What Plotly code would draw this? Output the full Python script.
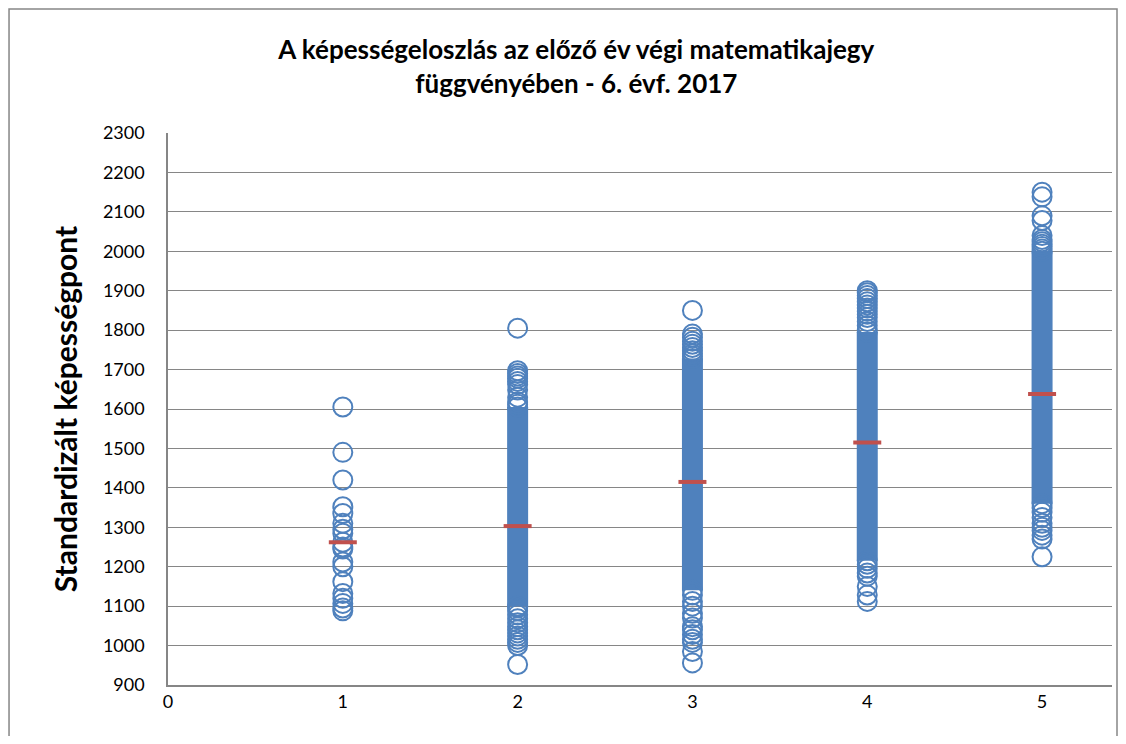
import plotly.graph_objects as go

# grade (previous year's maths mark) for each column
grades = [1, 2, 3, 4, 5]

# individually visible circles, per grade
grade1_points = [1605, 1490, 1420, 1352, 1335, 1310, 1295, 1285, 1262, 1250, 1245,
                 1212, 1200, 1162, 1132, 1120, 1107, 1095, 1088]
grade2_points = [1805, 1697, 1690, 1684, 1678, 1670, 1662, 1648, 1630, 1618, 1612,
                 1096, 1088, 1078, 1068, 1058, 1048, 1040, 1032, 1024, 1016, 1008,
                 1000, 952]
grade3_points = [1850, 1790, 1782, 1772, 1764, 1756, 1748, 1740, 1734,
                 1128, 1112, 1100, 1082, 1070, 1048, 1040, 1028, 1016, 1008, 985, 956]
grade4_points = [1900, 1895, 1888, 1880, 1872, 1864, 1856, 1848, 1840, 1832, 1822,
                 1812, 1802, 1206, 1196, 1184, 1176, 1150, 1128, 1112]
grade5_points = [2150, 2138, 2090, 2078, 2040, 2030, 2024, 2018, 2012, 2006,
                 1350, 1338, 1325, 1310, 1300, 1292, 1280, 1270, 1225]

# range where the circles overlap into a solid column (grades 2-5)
dense_low = [1100, 1140, 1215, 1360]
dense_high = [1605, 1728, 1795, 2000]

# group means (red marks)
means = [1262, 1303, 1415, 1515, 1638]

blue = "#4F81BD"
red = "#C0504D"
grid = "#868686"

fig = go.Figure()

# solid part of the columns
band_x, band_y = [], []
for g, lo, hi in zip(grades[1:], dense_low, dense_high):
    band_x += [g, g, None]
    band_y += [lo, hi, None]
fig.add_trace(go.Scatter(x=band_x, y=band_y, mode="lines",
                         line=dict(color=blue, width=21), hoverinfo="skip",
                         showlegend=False))

xs, ys = [], []
groups = [grade1_points, grade2_points, grade3_points, grade4_points, grade5_points]
for g, pts in zip(grades, groups):
    xs += [g] * len(pts)
    ys += pts
for g, lo, hi in zip(grades[1:], dense_low, dense_high):
    xs += [g, g]
    ys += [lo, hi]

fig.add_trace(go.Scatter(
    x=xs, y=ys, mode="markers",
    marker=dict(symbol="circle-open", size=19, color=blue, line=dict(width=2, color=blue)),
    showlegend=False,
))

fig.add_trace(go.Scatter(
    x=grades, y=means, mode="markers",
    marker=dict(symbol="line-ew", size=20, line=dict(width=4, color=red)),
    showlegend=False,
))

fig.update_layout(
    width=1110, height=728,
    paper_bgcolor="white", plot_bgcolor="white",
    margin=dict(l=160, r=6, t=125, b=51),
    font=dict(family="Lato", size=18, color="black"),
    title=dict(
        text="<b>A képességeloszlás az előző év végi matematikajegy<br>függvényében - 6. évf. 2017</b>",
        x=0.512, xanchor="center", y=0.93, yanchor="top",
        font=dict(family="Lato", size=26, color="black"),
    ),
    xaxis=dict(range=[0, 5.4], dtick=1, tick0=0, showgrid=False, zeroline=False,
               showline=True, linecolor=grid, linewidth=1.5, ticks="",
               tickfont=dict(size=18), ticklabelstandoff=0),
    yaxis=dict(range=[900, 2300], dtick=100, showgrid=True, gridcolor=grid,
               gridwidth=1.2, zeroline=False, showline=True, linecolor=grid,
               linewidth=1.5, ticks="", tickfont=dict(size=18), ticklabelstandoff=18,
               title=dict(text="<b>Standardizált képességpont</b>",
                          font=dict(size=30), standoff=16)),
    shapes=[dict(type="rect", xref="paper", yref="paper",
                 x0=-0.1684, x1=1.0053, y0=-0.2, y1=1.2246,
                 line=dict(color=grid, width=1.5), fillcolor="rgba(0,0,0,0)")],
)

fig.write_html("out.html")
